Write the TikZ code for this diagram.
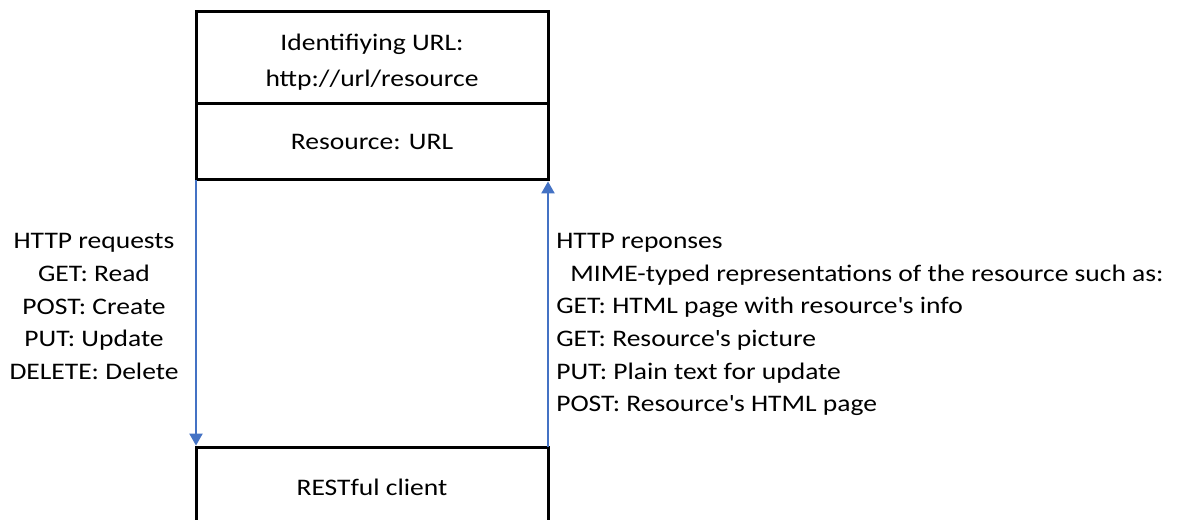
\documentclass[tikz,border=0pt]{standalone}
\usepackage{fontspec}
\setmainfont{Carlito}[FakeStretch=1.16]
\usetikzlibrary{positioning,arrows.meta}
\definecolor{arrowblue}{RGB}{68,114,196}

\begin{document}
\begin{tikzpicture}[x=0.75pt,y=0.75pt,yscale=-1,xscale=1,
	box/.style={draw, line width=2.25pt, outer sep=0pt, inner sep=0pt, minimum width=264pt, align=center, font=\fontsize{17.8}{27}\selectfont},
	msg/.style={draw=arrowblue, line width=0.9pt, -{Triangle[width=10pt,length=9pt]}, shorten >=1.1pt},
	label/.style={inner sep=0pt, font=\fontsize{17.8}{24.5}\selectfont}]
	%set diagram to 1184 x 520
	\useasboundingbox (0,0) rectangle (1184,520);
	
	% Server side
	\node (url) [box, minimum height=69pt] at (372,58) {\raisebox{-8pt}[0pt][0pt]{Identifiying URL:}\\\raisebox{-8pt}[0pt][0pt]{http://url/resource}};
	\node (resource) [box, minimum height=57pt, below=0pt of url] {Resource: URL};
	
	% Client side
	\node (client) [box, minimum height=60pt] at (372,487) {RESTful client};
	
	% Requests and responses
	\draw [msg] (resource.south west) -- (client.north west);
	\draw [msg] (client.north east) -- (resource.south east);
	
	% Text Node
	\node (requests) [label, align=center] at (94,306.5) {HTTP requests\\GET: Read\\POST: Create\\PUT: Update\\DELETE: Delete};
	% Text Node
	\node (responses) [label, align=left, anchor=west] at (556,324.5) {HTTP reponses\\\hspace*{10.5pt}MIME-typed representations of the resource such as:\\GET: HTML page with resource\textquotesingle s info\\GET: Resource\textquotesingle s picture\\PUT: Plain text for update\\POST: Resource\textquotesingle s HTML page};
\end{tikzpicture}
\end{document}
